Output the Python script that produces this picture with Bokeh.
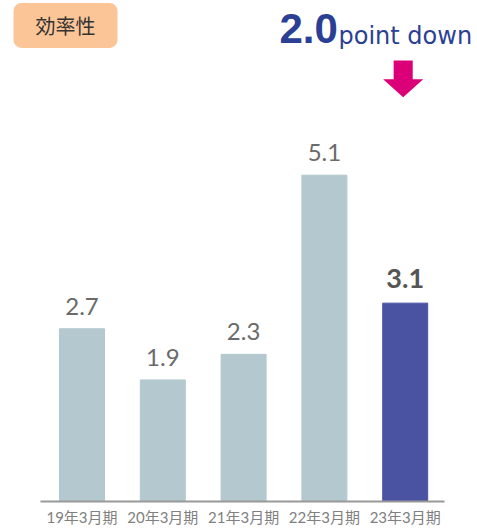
from bokeh.plotting import figure
from bokeh.models import Range1d, FixedTicker, Label, ColumnDataSource
from bokeh.core.properties import value
from bokeh.embed import file_html
from bokeh.resources import INLINE

# ---- data ----
categories = ["19年3月期", "20年3月期", "21年3月期", "22年3月期", "23年3月期"]
values = [2.7, 1.9, 2.3, 5.1, 3.1]
value_labels = ["2.7", "1.9", "2.3", "5.1", "3.1"]
title_text = "効率性"
change_value = "2.0"
change_text = "point down"

# ---- styles ----
BAR_LIGHT = "#B3C9CF"
BAR_HIGHLIGHT = "#4A53A2"
FONT = "Lato"

W, H = 477, 528
BOTTOM = 26
Y_END = 7.83
CAT_W = 80.8          # pixels per category
FIRST_CENTER = 81.5   # pixel x of first category centre

def xd(px):
    return (px - FIRST_CENTER) / CAT_W

def yd(py):
    return (H - BOTTOM - py) / ((H - BOTTOM) / Y_END)

xs = list(range(len(categories)))
colors = [BAR_LIGHT] * (len(values) - 1) + [BAR_HIGHLIGHT]
src = ColumnDataSource(dict(x=xs, top=values, color=colors, lbl=value_labels))

p = figure(width=W, height=H, output_backend="svg", toolbar_location=None,
           x_range=Range1d(xd(0), xd(W)), y_range=Range1d(0, Y_END),
           min_border_left=0, min_border_right=0,
           min_border_top=0, min_border_bottom=BOTTOM)
p.outline_line_color = None
p.xgrid.visible = False
p.ygrid.visible = False
p.yaxis.visible = False
p.background_fill_color = "white"
p.border_fill_color = "white"

p.vbar(x="x", top="top", width=0.557, bottom=0, color="color", source=src)

# value labels
normal = ColumnDataSource(dict(x=xs[:-1], y=values[:-1], t=value_labels[:-1]))
hl = ColumnDataSource(dict(x=xs[-1:], y=values[-1:], t=value_labels[-1:]))
p.text(x="x", y="y", text="t", source=normal, text_align="center", text_baseline="bottom",
       y_offset=-14, text_font=value(FONT), text_font_size="24px", text_color="#6a6a6a")
p.text(x="x", y="y", text="t", source=hl, text_align="center", text_baseline="bottom",
       y_offset=-15, text_font=value(FONT), text_font_size="27px", text_font_style="bold",
       text_color="#555555")

# x axis
ax = p.xaxis[0]
ax.ticker = FixedTicker(ticks=xs)
ax.bounds = (-0.5 - 0.017, len(categories) - 0.5 - 0.017)
ax.major_label_overrides = {i: c for i, c in enumerate(categories)}
ax.major_tick_line_color = None
ax.minor_tick_line_color = None
ax.major_tick_out = 0
ax.major_tick_in = 0
ax.axis_line_color = "#999999"
ax.axis_line_width = 2
ax.major_label_standoff = 6
ax.major_label_text_font = "Lato, 'Noto Sans CJK JP'"
ax.major_label_text_font_size = "15px"
ax.major_label_text_color = "#808080"

# title box
p.add_layout(Label(x=xd(65), y=yd(25), text=title_text, text_align="center",
                   text_baseline="middle", text_font="Noto Sans CJK JP",
                   text_font_size="20px", text_color="#333333",
                   background_fill_color="#FCC597", border_radius=8,
                   padding={"left": 22, "right": 22, "top": 8, "bottom": 8}))

# change annotation
p.add_layout(Label(x=xd(279), y=yd(28), text=change_value, text_align="left",
                   text_baseline="middle", text_font="Liberation Sans",
                   text_font_size="42px", text_font_style="bold", text_color="#2B3F94"))
p.add_layout(Label(x=xd(338), y=yd(35.5), text=change_text, text_align="left",
                   text_baseline="middle", text_font="DejaVu Sans",
                   text_font_size="24px", text_color="#2B3F94"))

# down arrow above highlighted bar
cx = xs[-1] - 0.025
sh, hh = 0.118, 0.248
y_top, y_mid, y_tip = yd(60), yd(79), yd(97)
p.patch(x=[cx - sh, cx + sh, cx + sh, cx + hh, cx, cx - hh, cx - sh],
        y=[y_top, y_top, y_mid, y_mid, y_tip, y_mid, y_mid],
        color="#DC0078", line_width=0)

open("out.html", "w").write(file_html(p, INLINE))
